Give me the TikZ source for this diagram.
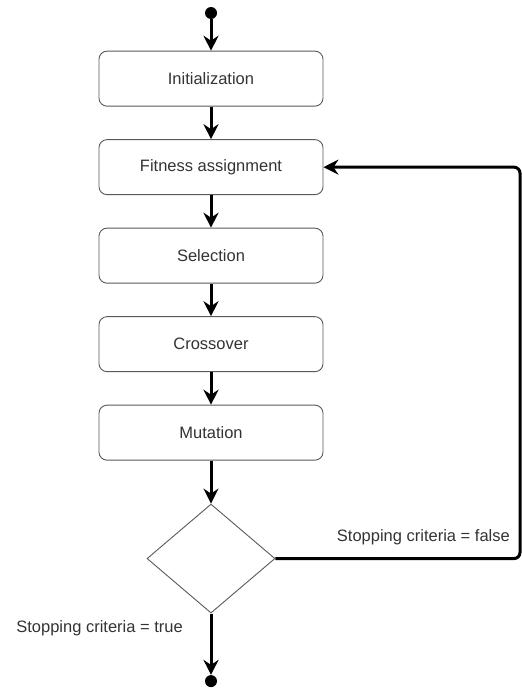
\documentclass[tikz,border=0pt]{standalone}
\usepackage{fontspec}
\setmainfont{Liberation Sans}
\usetikzlibrary{positioning,shapes.geometric,arrows.meta}

\begin{document}
\begin{tikzpicture}[node distance=32.6pt,
			every node/.style = {font=\fontsize{16.5}{19}\selectfont, text=black!80},
			process/.style = {shape=rectangle, draw=black!65, line width=0.9pt, rounded corners=8pt, minimum width=224pt, minimum height=55pt},
			decision/.style = {shape=diamond, draw=black!65, line width=0.9pt, minimum width=128pt, minimum height=109pt, inner sep=0pt},
			terminal/.style = {shape=circle, fill=black, minimum size=12pt, inner sep=0pt},
			caption/.style = {inner sep=0pt, anchor=east},
			flow/.style = {-{Stealth[length=15pt,width=15pt,inset=5pt]}, line width=3pt}]
			
			\useasboundingbox (0,0) rectangle (522pt,-688pt);
			
			\node[terminal] (start) at (211pt,-13pt) {};
			\node[process, below=31.5pt of start] (init) {Initialization};
			\node[process, below=of init] (fit) {Fitness assignment};
			\node[process, below=of fit] (sel) {Selection};
			\node[process, below=of sel] (cross) {Crossover};
			\node[process, below=of cross] (mut) {Mutation};
			\node[decision, below=43pt of mut] (stop) {};
			\node[terminal, below=61.4pt of stop] (end) {};
			\coordinate (back) at (520pt,0);
			
			\node[caption] (falselbl) at (510pt,-536.8pt) {Stopping criteria = false};
			\node[caption] (truelbl) at (183pt,-627.8pt) {Stopping criteria = true};
			
			\foreach \a/\b in {start/init, init/fit, fit/sel, sel/cross, cross/mut, mut/stop, stop/end}
				\draw[flow] (\a) -- (\b);
			\draw[flow, rounded corners=6pt] (stop.east) -- (stop.east -| back) |- (fit.east);
			\end{tikzpicture}
\end{document}
